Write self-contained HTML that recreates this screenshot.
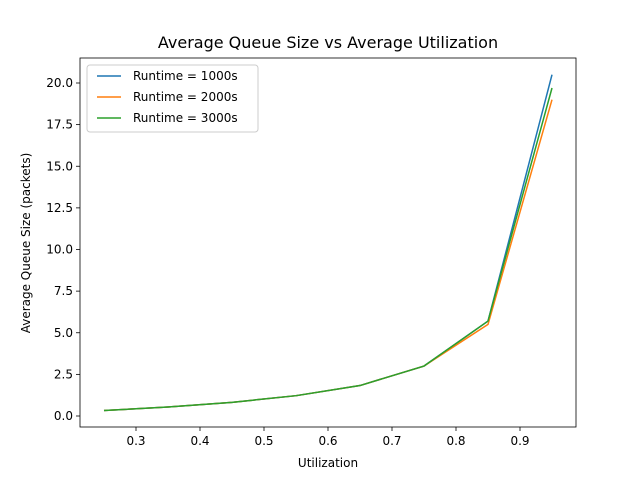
<!DOCTYPE html>
<html><head><meta charset="utf-8"><style>
body{margin:0;background:#fff;font-family:"DejaVu Sans","Liberation Sans",sans-serif;}
svg text{font-family:"DejaVu Sans","Liberation Sans",sans-serif;fill:#000;}
</style></head><body>
<svg id="chart" width="640" height="480" xmlns="http://www.w3.org/2000/svg">
<rect width="640" height="480" fill="#fff"/>
<text x="328" y="48" font-size="16" text-anchor="middle">Average Queue Size vs Average Utilization</text>
<g id="plot"></g>
</svg>
<script>
const xs=[0.25,0.35,0.45,0.55,0.65,0.75,0.85,0.95];
const s1000=[0.33,0.54,0.82,1.22,1.83,3.0,5.7,20.5];
const s2000=[0.33,0.54,0.82,1.22,1.83,3.0,5.5,19.0];
const s3000=[0.33,0.54,0.82,1.22,1.83,3.0,5.7,19.7];
const labels=["Runtime = 1000s","Runtime = 2000s","Runtime = 3000s"];
const colors=["#1f77b4","#ff7f0e","#2ca02c"];
const xticks=[0.3,0.4,0.5,0.6,0.7,0.8,0.9];
const yticks=[0,2.5,5,7.5,10,12.5,15,17.5,20];
const L=80,R=576,T=58,B=427;
const X=v=>136+(v-0.3)*640;
const Y=v=>416-v*(333/20);
const NS="http://www.w3.org/2000/svg";
const g=document.getElementById('plot');
function mk(t,a,p){const e=document.createElementNS(NS,t);for(const k in a)e.setAttribute(k,a[k]);(p||g).appendChild(e);return e;}
xticks.forEach(v=>{
const l=mk('line',{x1:X(v),x2:X(v),y1:B,y2:B+4,stroke:'#000','stroke-width':0.8});


const t=mk('text',{x:X(v),y:B+18,'font-size':12,'text-anchor':'middle'});t.textContent=v.toFixed(1);


});
yticks.forEach(v=>{
const l=mk('line',{x1:L-4,x2:L,y1:Y(v),y2:Y(v),stroke:'#000','stroke-width':0.8});


const t=mk('text',{x:L-7,y:Y(v)+4,'font-size':12,'text-anchor':'end'});t.textContent=v.toFixed(1);


});
[s1000,s2000,s3000].forEach((s,i)=>{
const p=mk('polyline',{points:xs.map((x,j)=>X(x)+','+Y(s[j])).join(' '),fill:'none',stroke:colors[i],'stroke-width':1.5});


});
const fr=mk('rect',{x:L,y:T,width:R-L,height:B-T,fill:'none',stroke:'#000','stroke-width':0.8});


const xl=mk('text',{x:328,y:467,'font-size':12,'text-anchor':'middle'});xl.textContent='Utilization';


const yl=mk('text',{x:30,y:243,'font-size':12,'text-anchor':'middle',transform:'rotate(-90 30 243)'});yl.textContent='Average Queue Size (packets)';


const lg=mk('rect',{x:87,y:65,width:171,height:67,rx:3,fill:'#fff','fill-opacity':0.8,stroke:'#ccc'});


labels.forEach((lab,i)=>{
const y=76+i*21;
const l=mk('line',{x1:97,x2:121,y1:y,y2:y,stroke:colors[i],'stroke-width':1.5});


const t=mk('text',{x:133,y:y+4,'font-size':12});t.textContent=lab;


});
</script>
</body></html>
